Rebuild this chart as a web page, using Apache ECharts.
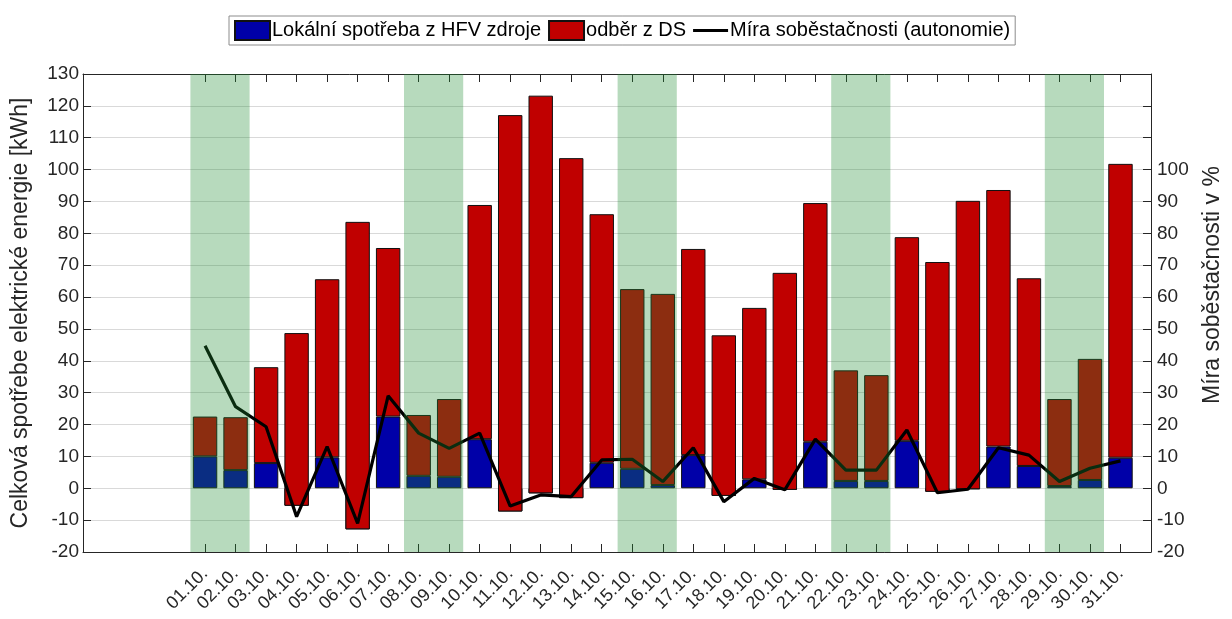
<!DOCTYPE html>
<html>
<head>
<meta charset="utf-8">
<script src="https://cdn.jsdelivr.net/npm/echarts@6/dist/echarts.min.js"></script>
<style>
html,body{margin:0;padding:0;background:#fff;}
#chart{width:1232px;height:619px;}
</style>
</head>
<body>
<div id="chart"></div>
<script>
// ---- data ----
const dayLabels = ['01.10.','02.10.','03.10.','04.10.','05.10.','06.10.','07.10.','08.10.','09.10.','10.10.',
  '11.10.','12.10.','13.10.','14.10.','15.10.','16.10.','17.10.','18.10.','19.10.','20.10.',
  '21.10.','22.10.','23.10.','24.10.','25.10.','26.10.','27.10.','28.10.','29.10.','30.10.','31.10.'];
// local consumption from the PV source [kWh]
const localPV = [10.0, 5.7, 7.9, -5.5, 9.7, -12.9, 22.5, 3.9, 3.6, 15.4,
  -7.3, -1.6, -3.1, 8.0, 6.1, 1.0, 10.4, -2.4, 2.8, -0.5,
  14.6, 2.3, 2.3, 14.9, -1.1, -0.3, 13.1, 7.0, 0.7, 2.6, 9.6];
// draw from the distribution grid [kWh] (stacked on top of localPV)
const gridDraw = [12.5, 16.6, 30.1, 54.2, 55.9, 96.5, 52.9, 19.1, 24.4, 73.5,
  124.4, 124.8, 106.7, 78.0, 56.4, 60.0, 64.7, 50.4, 53.8, 68.1,
  74.9, 34.7, 33.2, 63.9, 72.1, 90.5, 80.5, 58.9, 27.3, 38.0, 92.2];
// self-sufficiency (autonomy) [%]
const autonomy = [44.7, 25.6, 19.3, -8.9, 13.1, -11.0, 29.0, 17.3, 12.5, 17.3,
  -5.6, -2.1, -2.6, 8.9, 9.1, 2.1, 12.7, -4.2, 3.1, -0.5,
  15.4, 5.7, 5.7, 18.3, -1.4, -0.3, 12.7, 10.4, 2.1, 6.3, 8.6];
// weekends: first day (Saturday) of each shaded pair
const weekendStarts = [1, 8, 15, 22, 29];
const yTicksMin = -20, yTicksMax = 130, yTickStep = 10;
const rightLabelMax = 100;

// ---- layout helpers (axis padding: 4 empty slots before, 1 after) ----
const LEAD = 4, TRAIL = 1;
const pad = arr => Array(LEAD).fill(null).concat(arr).concat(Array(TRAIL).fill(null));
const cats = Array(LEAD).fill('').concat(dayLabels).concat(Array(TRAIL).fill(''));
const shade = weekendStarts.map(d => [d - 0.48, d + 1.46]);

const FONT = 'Liberation Sans';
const AX = '#262626';
const tickOn = (i, v) => v !== '';

const chart = echarts.init(document.getElementById('chart'), null, {renderer: 'canvas'});
chart.setOption({
  animation: false,
  backgroundColor: '#fff',
  textStyle: {fontFamily: FONT},
  legend: {
    left: 229, top: 16,
    orient: 'horizontal',
    padding: [4, 5, 4, 5],
    itemGap: 7,
    itemWidth: 35, itemHeight: 19,
    borderColor: '#8c8c8c', borderWidth: 1,
    backgroundColor: '#fff',
    textStyle: {fontFamily: FONT, fontSize: 20, color: '#000', padding: [0, 0, 0, -3]},
    data: [
      {name: 'Lokální spotřeba z HFV zdroje', icon: 'rect'},
      {name: 'odběr z DS', icon: 'rect'},
      {name: 'Míra soběstačnosti (autonomie)', icon: 'path://M0,0 L40,0 L40,3.5 L0,3.5 Z'}
    ]
  },
  grid: {left: 83, right: 77, top: 74, bottom: 67, containLabel: false},
  xAxis: [
    {
      type: 'category', position: 'bottom', data: cats, boundaryGap: false,
      axisLine: {show: true, onZero: false, lineStyle: {color: AX, width: 1}},
      axisTick: {show: true, inside: true, length: 8, interval: tickOn, lineStyle: {color: AX}},
      axisLabel: {interval: 0, rotate: 45, margin: 19, fontSize: 18, color: AX, fontFamily: FONT},
      splitLine: {show: false}
    },
    {
      type: 'category', position: 'top', data: cats, boundaryGap: false,
      axisLine: {show: true, onZero: false, lineStyle: {color: AX, width: 1}},
      axisTick: {show: true, inside: true, length: 8, interval: tickOn, lineStyle: {color: AX}},
      axisLabel: {show: false},
      splitLine: {show: false}
    },
    {
      type: 'value', min: -LEAD + 1, max: dayLabels.length + TRAIL, show: false,
      axisLine: {onZero: false}
    }
  ],
  yAxis: [
    {
      type: 'value', position: 'left', min: yTicksMin, max: yTicksMax, interval: yTickStep,
      name: 'Celková spotřebe elektrické energie [kWh]',
      nameLocation: 'middle', nameGap: 51, nameRotate: 90,
      nameTextStyle: {fontFamily: FONT, fontSize: 23, color: AX},
      axisLine: {show: true, onZero: false, lineStyle: {color: AX, width: 1}},
      axisTick: {show: true, inside: true, length: 8, lineStyle: {color: AX}},
      axisLabel: {fontSize: 19, color: AX, margin: 4, fontFamily: FONT},
      splitLine: {show: true, lineStyle: {color: '#d9d9d9', width: 1}}
    },
    {
      type: 'value', position: 'right', min: yTicksMin, max: yTicksMax, interval: yTickStep,
      name: 'Míra soběstačnosti v %',
      nameLocation: 'middle', nameGap: 50, nameRotate: 90,
      nameTextStyle: {fontFamily: FONT, fontSize: 23, color: AX, padding: [0, 0, 0, 56]},
      axisLine: {show: true, onZero: false, lineStyle: {color: AX, width: 1}},
      axisTick: {show: true, inside: true, length: 8, lineStyle: {color: AX}},
      axisLabel: {fontSize: 19, color: AX, margin: 6, fontFamily: FONT,
        formatter: v => (v > rightLabelMax ? '' : String(v))},
      splitLine: {show: false}
    }
  ],
  series: [
    {
      name: 'Lokální spotřeba z HFV zdroje', type: 'bar', stack: 'energy', stackStrategy: 'all',
      xAxisIndex: 0, yAxisIndex: 0, barWidth: '80%', z: 2,
      itemStyle: {color: '#0000a8', borderColor: '#111', borderWidth: 1},
      data: pad(localPV)
    },
    {
      name: 'odběr z DS', type: 'bar', stack: 'energy', stackStrategy: 'all',
      xAxisIndex: 0, yAxisIndex: 0, barWidth: '80%', z: 2,
      itemStyle: {color: '#c00000', borderColor: '#111', borderWidth: 1},
      data: pad(gridDraw)
    },
    {
      name: 'Míra soběstačnosti (autonomie)', type: 'line',
      xAxisIndex: 0, yAxisIndex: 1, symbol: 'none', z: 3,
      lineStyle: {color: '#000', width: 3.2}, itemStyle: {color: '#000'},
      data: pad(autonomy)
    },
    {
      name: 'weekend', type: 'custom', xAxisIndex: 2, yAxisIndex: 0, z: 5, silent: true,
      clip: false,
      encode: {x: [0, 1]},
      renderItem: function (params, api) {
        const p0 = api.coord([api.value(0), yTicksMax]);
        const p1 = api.coord([api.value(1), yTicksMin]);
        return {
          type: 'rect',
          shape: {x: p0[0], y: p0[1], width: p1[0] - p0[0], height: p1[1] - p0[1]},
          style: {fill: 'rgba(30,140,50,0.32)'}
        };
      },
      data: shade
    }
  ]
});
</script>
</body>
</html>
